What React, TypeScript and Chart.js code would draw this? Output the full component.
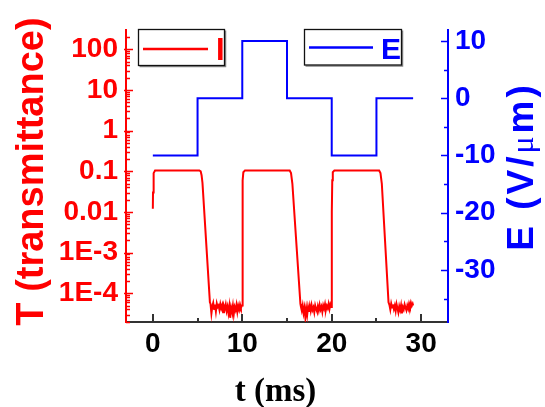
import React, { useEffect, useRef } from "react";
import { Chart, registerables } from "chart.js";

Chart.register(...registerables);

// ---- data ----
const tTime = [
  0, 0.02, 0.06, 0.12, 0.25, 5.2, 5.35, 5.45, 5.55, 6.38,
  6.45, 6.55, 6.65, 6.75, 6.85, 6.95, 7.05, 7.15, 7.25, 7.35, 7.45, 7.55, 7.65, 7.75, 7.85, 7.95,
  8.05, 8.15, 8.25, 8.35, 8.45, 8.55, 8.65, 8.75, 8.85, 8.95, 9.05, 9.15, 9.25, 9.35, 9.45, 9.55,
  9.65, 9.75, 9.85, 9.95,
  10.0, 10.02, 10.06, 10.12, 10.3, 15.3, 15.45, 15.6, 16.5,
  16.55, 16.65, 16.75, 16.85, 16.95, 17.05, 17.15, 17.25, 17.35, 17.45, 17.55, 17.65, 17.75, 17.85,
  17.95, 18.05, 18.15, 18.25, 18.35, 18.45, 18.55, 18.65, 18.75, 18.85, 18.95, 19.05, 19.15, 19.25,
  19.35, 19.45, 19.55, 19.65, 19.75, 19.85, 19.95,
  20.0, 20.02, 20.06, 20.12, 20.3, 25.3, 25.45, 25.6, 26.35,
  26.45, 26.55, 26.65, 26.75, 26.85, 26.95, 27.05, 27.15, 27.25, 27.35, 27.45, 27.55, 27.65, 27.75,
  27.85, 27.95, 28.05, 28.15, 28.25, 28.35, 28.45, 28.55, 28.65, 28.75, 28.85, 28.95, 29.05, 29.1,
];
const tValue = [
  0.012, 0.03, 0.06, 0.09, 0.105, 0.105, 0.1, 0.08, 0.052, 6.0e-5,
  5.5e-5, 3.2e-5, 4.8e-5, 5.8e-5, 4.1e-5, 5.3e-5, 3.6e-5, 5.6e-5, 4.6e-5, 5.0e-5, 3.9e-5, 5.4e-5, 4.3e-5, 5.1e-5, 3.4e-5, 4.9e-5,
  4.2e-5, 5.3e-5, 3.7e-5, 4.7e-5, 3.3e-5, 4.8e-5, 2.5e-5, 4.5e-5, 3.6e-5, 5.0e-5, 3.1e-5, 4.6e-5, 3.9e-5, 5.2e-5, 3.5e-5, 4.9e-5,
  4.0e-5, 5.3e-5, 4.4e-5, 5.0e-5,
  5.0e-5, 0.01, 0.06, 0.095, 0.105, 0.105, 0.09, 0.05, 5.5e-5,
  4.8e-5, 3.8e-5, 5.0e-5, 3.3e-5, 4.4e-5, 2.6e-5, 4.2e-5, 2.9e-5, 4.6e-5, 3.5e-5, 4.9e-5, 3.7e-5, 5.1e-5, 3.9e-5,
  4.5e-5, 3.4e-5, 5.0e-5, 4.1e-5, 3.6e-5, 4.8e-5, 3.8e-5, 5.2e-5, 4.0e-5, 4.7e-5, 3.5e-5, 5.0e-5, 4.2e-5, 5.4e-5,
  3.9e-5, 4.9e-5, 4.3e-5, 5.5e-5, 4.1e-5, 5.3e-5, 4.6e-5,
  5.0e-5, 0.01, 0.06, 0.095, 0.105, 0.105, 0.09, 0.05, 6.0e-5,
  5.2e-5, 4.0e-5, 5.6e-5, 4.5e-5, 5.3e-5, 4.1e-5, 5.0e-5, 3.7e-5, 5.4e-5, 4.3e-5, 3.4e-5, 4.8e-5, 3.9e-5, 5.1e-5,
  3.2e-5, 4.6e-5, 4.0e-5, 5.3e-5, 4.4e-5, 3.8e-5, 5.0e-5, 4.2e-5, 5.6e-5, 4.7e-5, 5.9e-5, 4.9e-5, 5.5e-5, 5.0e-5,
];
const eTime = [0, 5, 5, 10, 10, 15, 15, 20, 20, 25, 25, 29.1];
const eField = [-10, -10, 0, 0, 10, 10, 0, 0, -10, -10, 0, 0];

const seriesLabels = ["I", "E"];
const xTicks = [0, 10, 20, 30];
const xTickLabels = ["0", "10", "20", "30"];
const xMinorTicks = [5, 15, 25];
const leftTicks = [100, 10, 1, 0.1, 0.01, 0.001, 0.0001];
const leftTickLabels = ["100", "10", "1", "0.1", "0.01", "1E-3", "1E-4"];
const rightTicks = [10, 0, -10, -20, -30];
const rightTickLabels = ["10", "0", "-10", "-20", "-30"];
const rightMinorTicks = [5, -5, -15, -25, -35];
const xTitle = "t (ms)";
const leftTitle = "T (transmittance)";
const rightTitleParts = ["E (V/", "\u03bc", "m)"];

const RED = "#ff0000";
const BLUE = "#0000ff";
const AXIS = "#333333";
const SANS = "'Liberation Sans', Arial, sans-serif";
const SERIF = "'Liberation Serif', 'Times New Roman', serif";

const decor = {
  id: "decor",
  afterDraw(chart: any) {
    const ctx = chart.ctx as CanvasRenderingContext2D;
    const xs = chart.scales.x;
    const yl = chart.scales.y;
    const yr = chart.scales.y2;
    const a = chart.chartArea;
    ctx.save();

    // left axis ticks (log)
    ctx.strokeStyle = RED;
    ctx.lineWidth = 1.5;
    for (let e = -6; e <= 3; e++) {
      for (let m = 1; m <= 9; m++) {
        const v = m * Math.pow(10, e);
        if (v < yl.min || v > yl.max) continue;
        const py = Math.round(yl.getPixelForValue(v)) + 0.5;
        ctx.beginPath();
        if (m === 1) {
          ctx.moveTo(a.left - 2, py);
          ctx.lineTo(a.left + 7, py);
        } else {
          ctx.moveTo(a.left, py);
          ctx.lineTo(a.left + 4, py);
        }
        ctx.stroke();
      }
    }

    // right axis ticks
    ctx.strokeStyle = BLUE;
    rightTicks.forEach((v) => {
      const py = Math.round(yr.getPixelForValue(v)) + 0.5;
      ctx.beginPath();
      ctx.moveTo(a.right, py);
      ctx.lineTo(a.right - 7, py);
      ctx.stroke();
    });
    rightMinorTicks.forEach((v) => {
      const py = Math.round(yr.getPixelForValue(v)) + 0.5;
      ctx.beginPath();
      ctx.moveTo(a.right, py);
      ctx.lineTo(a.right - 4, py);
      ctx.stroke();
    });

    // x axis ticks
    ctx.strokeStyle = AXIS;
    ctx.lineWidth = 2;
    xTicks.forEach((v) => {
      const px = Math.round(xs.getPixelForValue(v));
      ctx.beginPath();
      ctx.moveTo(px, a.bottom);
      ctx.lineTo(px, a.bottom - 8);
      ctx.stroke();
    });
    xMinorTicks.forEach((v) => {
      const px = Math.round(xs.getPixelForValue(v));
      ctx.beginPath();
      ctx.moveTo(px, a.bottom);
      ctx.lineTo(px, a.bottom - 4);
      ctx.stroke();
    });

    // titles
    ctx.fillStyle = RED;
    ctx.font = `bold 38px ${SANS}`;
    ctx.textAlign = "center";
    ctx.textBaseline = "alphabetic";
    ctx.save();
    ctx.translate(43, 171.5);
    ctx.rotate(-Math.PI / 2);
    ctx.fillText(leftTitle, 0, 0);
    ctx.restore();

    ctx.fillStyle = BLUE;
    ctx.save();
    ctx.translate(533, 166.5);
    ctx.rotate(-Math.PI / 2);
    ctx.textAlign = "left";
    (ctx as any).letterSpacing = "3px";
    const fonts = [`bold 37px ${SANS}`, `32px ${SERIF}`, `bold 37px ${SANS}`];
    const widths = rightTitleParts.map((p, i) => {
      ctx.font = fonts[i];
      return ctx.measureText(p).width;
    });
    let cx = -widths.reduce((s, w) => s + w, 0) / 2;
    rightTitleParts.forEach((p, i) => {
      ctx.font = fonts[i];
      ctx.fillText(p, cx, 0);
      cx += widths[i];
    });
    (ctx as any).letterSpacing = "0px";
    ctx.restore();

    ctx.fillStyle = "#000000";
    ctx.font = `bold 33px ${SERIF}`;
    ctx.textAlign = "center";
    ctx.fillText(xTitle, 275.5, 400.5);

    // legend boxes
    const boxes = [
      { x: 138.5, y: 29.5, w: 86, h: 36, color: RED, l0: 143, l1: 208, ly: 49, tx: 216, ty: 59.5, fs: 31 },
      { x: 304.5, y: 29.5, w: 97, h: 35.5, color: BLUE, l0: 309, l1: 373, ly: 47.5, tx: 381, ty: 58.5, fs: 30 },
    ];
    boxes.forEach((b, i) => {
      ctx.fillStyle = "#ffffff";
      ctx.fillRect(b.x, b.y, b.w, b.h);
      ctx.strokeStyle = "#888888";
      ctx.lineWidth = 1.5;
      ctx.beginPath();
      ctx.moveTo(b.x + b.w + 1, b.y + 1);
      ctx.lineTo(b.x + b.w + 1, b.y + b.h + 1);
      ctx.lineTo(b.x + 1, b.y + b.h + 1);
      ctx.stroke();
      ctx.strokeStyle = "#111111";
      ctx.lineWidth = 1.3;
      ctx.strokeRect(b.x, b.y, b.w, b.h);
      ctx.strokeStyle = b.color;
      ctx.lineWidth = 2.5;
      ctx.beginPath();
      ctx.moveTo(b.l0, b.ly);
      ctx.lineTo(b.l1, b.ly);
      ctx.stroke();
      ctx.fillStyle = b.color;
      ctx.font = `bold ${b.fs}px ${SANS}`;
      ctx.textAlign = "left";
      ctx.fillText(seriesLabels[i], b.tx, b.ty);
    });

    ctx.restore();
  },
};

export default function App() {
  const ref = useRef<HTMLCanvasElement | null>(null);
  useEffect(() => {
    if (!ref.current) return;
    const chart = new Chart(ref.current, {
      type: "line",
      data: {
        datasets: [
          {
            label: seriesLabels[0],
            data: tTime.map((x, i) => ({ x, y: tValue[i] })),
            yAxisID: "y",
            borderColor: RED,
            borderWidth: 2,
            pointRadius: 0,
            tension: 0,
            fill: false,
          },
          {
            label: seriesLabels[1],
            data: eTime.map((x, i) => ({ x, y: eField[i] })),
            yAxisID: "y2",
            borderColor: BLUE,
            borderWidth: 2,
            pointRadius: 0,
            tension: 0,
            fill: false,
          },
        ],
      },
      options: {
        animation: false,
        responsive: false,
        devicePixelRatio: 1,
        layout: { padding: { top: 30, left: 0, right: 0, bottom: 0 } },
        plugins: { legend: { display: false }, tooltip: { enabled: false }, title: { display: false } },
        scales: {
          x: {
            type: "linear",
            min: -3,
            max: 33,
            afterBuildTicks: (s: any) => {
              s.ticks = xTicks.map((v) => ({ value: v }));
            },
            afterFit: (s: any) => {
              s.height = 85;
              s.paddingLeft = 0;
              s.paddingRight = 0;
            },
            ticks: {
              autoSkip: false,
              maxRotation: 0,
              padding: 5,
              color: "#000000",
              font: { family: SANS, size: 28, weight: "bold" },
              callback: (v: any) => xTickLabels[xTicks.indexOf(v)],
            },
            grid: { display: false, drawTicks: false },
            border: { display: true, color: AXIS, width: 2 },
          },
          y: {
            type: "logarithmic",
            position: "left",
            min: 1.97e-5,
            max: 298,
            afterBuildTicks: (s: any) => {
              s.ticks = leftTicks.map((v) => ({ value: v }));
            },
            afterFit: (s: any) => {
              s.width = 126;
              s.paddingTop = 0;
              s.paddingBottom = 0;
            },
            ticks: {
              autoSkip: false,
              padding: 8,
              color: RED,
              font: { family: SANS, size: 28, weight: "bold" },
              callback: (v: any) => {
                const i = leftTicks.findIndex((t) => Math.abs(Math.log10(t) - Math.log10(v)) < 1e-6);
                return i >= 0 ? leftTickLabels[i] : "";
              },
            },
            grid: { display: false, drawTicks: false },
            border: { display: true, color: RED, width: 2 },
          },
          y2: {
            type: "linear",
            position: "right",
            min: -39.1,
            max: 11.9,
            afterBuildTicks: (s: any) => {
              s.ticks = rightTicks.map((v) => ({ value: v }));
            },
            afterFit: (s: any) => {
              s.width = 97;
              s.paddingTop = 0;
              s.paddingBottom = 0;
            },
            ticks: {
              autoSkip: false,
              padding: 7,
              color: BLUE,
              font: { family: SANS, size: 28, weight: "bold" },
              callback: (v: any) => rightTickLabels[rightTicks.indexOf(v)],
            },
            grid: { display: false, drawTicks: false },
            border: { display: true, color: BLUE, width: 2 },
          },
        },
      },
      plugins: [decor],
    } as any);
    return () => chart.destroy();
  }, []);
  return (
    <div style={{ position: "absolute", left: 0, top: 0, width: 545, height: 407 }}>
      <canvas ref={ref} width={545} height={407} style={{ display: "block", width: 545, height: 407 }} />
    </div>
  );
}
